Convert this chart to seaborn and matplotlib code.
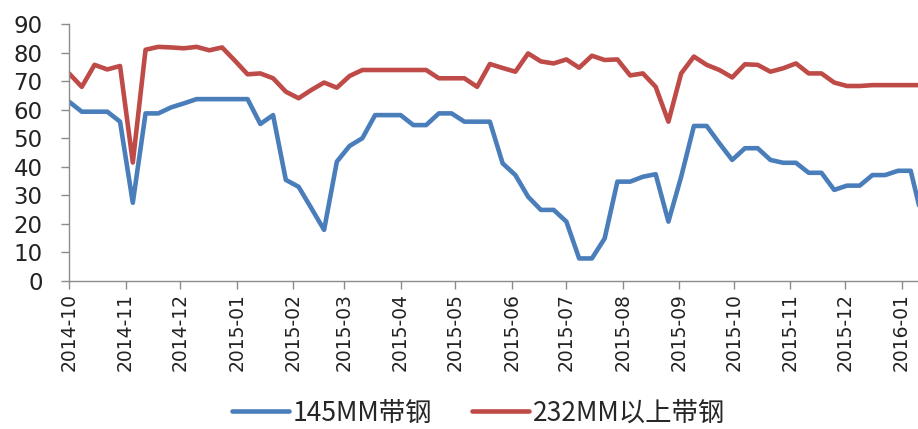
import numpy as np
import pandas as pd
import matplotlib
matplotlib.use("Agg")
import matplotlib.pyplot as plt
import matplotlib.dates as mdates
from matplotlib.lines import Line2D
import seaborn as sns

# ---- data (weekly) ----
start_date = "2014-10-01"
series_names = ["145MM带钢", "232MM以上带钢"]

strip_145 = [62.8, 59.3, 59.3, 59.3, 55.8, 27.4, 58.7, 58.7, 60.8, 62.2,
             63.7, 63.7, 63.7, 63.7, 63.7, 55.0, 58.1, 35.4, 33.0, 25.5,
             17.9, 41.8, 47.3, 50.0, 58.1, 58.1, 58.1, 54.6, 54.6, 58.7,
             58.7, 55.8, 55.8, 55.8, 41.2, 37.1, 29.5, 24.9, 24.9, 20.8,
             7.9, 7.9, 14.9, 34.8, 34.8, 36.5, 37.4, 20.8, 36.5, 54.3,
             54.3, 48.2, 42.4, 46.5, 46.5, 42.4, 41.4, 41.4, 37.9, 37.9,
             31.9, 33.4, 33.4, 37.1, 37.1, 38.6, 38.6, 20.0]

strip_232 = [72.7, 68.0, 75.7, 74.1, 75.3, 41.5, 81.0, 82.0, 81.8, 81.5,
             82.0, 80.8, 81.8, 77.2, 72.4, 72.7, 71.0, 66.3, 64.0, 66.9,
             69.5, 67.7, 71.8, 73.9, 73.9, 73.9, 73.9, 73.9, 73.9, 71.0,
             71.0, 71.0, 68.0, 76.0, 74.6, 73.3, 79.7, 76.9, 76.2, 77.6,
             74.7, 78.9, 77.4, 77.6, 72.0, 72.7, 68.0, 55.8, 72.7, 78.6,
             75.7, 73.9, 71.3, 75.9, 75.7, 73.3, 74.5, 76.2, 72.7, 72.7,
             69.5, 68.3, 68.3, 68.6, 68.6, 68.6, 68.6, 68.6]

y_ticks = [0, 10, 20, 30, 40, 50, 60, 70, 80, 90]
colors = ["#4A7EBB", "#BE4B48"]

dates = pd.date_range(start_date, periods=len(strip_145), freq="7D")
df = pd.DataFrame({
    "date": np.concatenate([dates, dates]),
    "value": strip_145 + strip_232,
    "series": [series_names[0]] * len(dates) + [series_names[1]] * len(dates),
})

# ---- plot ----
sns.set_theme(style="white")
plt.rcParams["font.family"] = ["DejaVu Sans", "Noto Sans CJK SC"]

fig = plt.figure(figsize=(9.18, 4.29), dpi=100)
ax = fig.add_axes([0.0752, 0.345, 0.9248, 0.599])

sns.lineplot(data=df, x="date", y="value", hue="series",
             palette=dict(zip(series_names, colors)), linewidth=3.3,
             ax=ax, legend=False)

ax.set_xlim(pd.Timestamp("2014-10-01"), pd.Timestamp("2016-01-10"))
ax.set_ylim(0, 90)
ax.set_yticks(y_ticks)
ax.xaxis.set_major_locator(mdates.MonthLocator())
ax.xaxis.set_major_formatter(mdates.DateFormatter("%Y-%m"))
ax.set_xlabel("")
ax.set_ylabel("")

for s in ["top", "right"]:
    ax.spines[s].set_visible(False)
for s in ["left", "bottom"]:
    ax.spines[s].set_color("#8C8C8C")
    ax.spines[s].set_linewidth(1.0)

ax.tick_params(axis="y", which="major", direction="out", length=6,
               width=1, color="#8C8C8C", labelsize=16.5, pad=13,
               labelcolor="#222222", left=True)
ax.tick_params(axis="x", which="major", direction="out", length=6,
               width=1, color="#8C8C8C", labelsize=13.5, pad=3,
               labelcolor="#222222", bottom=True, labelrotation=90)

handles = [Line2D([0], [0], color=c, lw=3.3) for c in colors]
fig.legend(handles, series_names, loc="center", bbox_to_anchor=(0.521, 0.037),
           ncol=2, frameon=False, handlelength=2.16, handletextpad=0.15,
           columnspacing=1.5,
           prop={"family": ["Noto Sans CJK SC"], "size": 19})

fig.savefig("out.png", dpi=100)
